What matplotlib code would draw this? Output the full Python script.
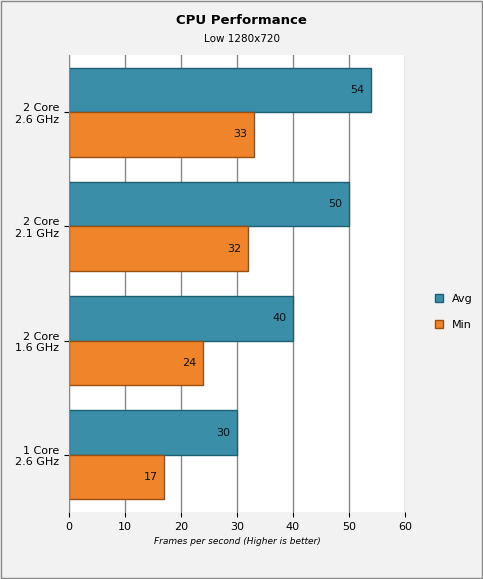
import matplotlib.pyplot as plt
import numpy as np

categories = ["1 Core\n2.6 GHz", "2 Core\n1.6 GHz", "2 Core\n2.1 GHz", "2 Core\n2.6 GHz"]
avg = [30, 40, 50, 54]
mins = [17, 24, 32, 33]
xticks = [0, 10, 20, 30, 40, 50, 60]

W, H = 483, 579
fig = plt.figure(figsize=(W/100, H/100), dpi=100)
fig.patch.set_facecolor("#f2f2f2")
# border
fig.add_artist(plt.Rectangle((0.002, 0.002), 0.996, 0.996, transform=fig.transFigure,
                             fill=False, edgecolor="#888888", lw=1))
ax = fig.add_axes([69/W, 1-512/H, (405-69)/W, (512-55)/H])
ax.set_facecolor("white")
y = np.arange(len(categories))
h = 0.39
b1 = ax.barh(y + h/2, avg, height=h, color="#3a8ea8", edgecolor="#1f5f73", lw=1)
b2 = ax.barh(y - h/2, mins, height=h, color="#f0842a", edgecolor="#9a4f10", lw=1)
for bars, vals in ((b1, avg), (b2, mins)):
    for r, v in zip(bars, vals):
        ax.text(v - 1.2, r.get_y() + r.get_height()/2, str(v), ha="right", va="center",
                fontsize=8, color="#111111")
ax.set_xlim(0, 60)
ax.set_ylim(-0.5, 3.5)
ax.set_xticks(xticks)
ax.set_yticks(y)
ax.set_yticklabels(categories, fontsize=8)
ax.tick_params(axis="x", labelsize=8)
ax.xaxis.grid(True, color="#888888", lw=1)
ax.set_axisbelow(True)
for s in ["top", "right", "bottom"]:
    ax.spines[s].set_visible(False)
ax.spines["left"].set_color("#888888")
ax.set_xlabel("Frames per second (Higher is better)", fontsize=6.5, style="italic")
fig.text(0.5, 1-20/H, "CPU Performance", ha="center", va="center", fontsize=9.5, weight="bold")
fig.text(0.5, 1-39/H, "Low 1280x720", ha="center", va="center", fontsize=7.5)
from matplotlib.patches import Patch
fig.legend(handles=[Patch(facecolor="#3a8ea8", edgecolor="#1f5f73"),
                    Patch(facecolor="#f0842a", edgecolor="#9a4f10")],
           labels=["Avg", "Min"], loc="center left", bbox_to_anchor=(425/W, 1-312/H),
           frameon=False, fontsize=8, handlelength=0.7, handleheight=0.7, labelspacing=1.4)
fig.savefig("out.png", dpi=100, facecolor=fig.get_facecolor())
